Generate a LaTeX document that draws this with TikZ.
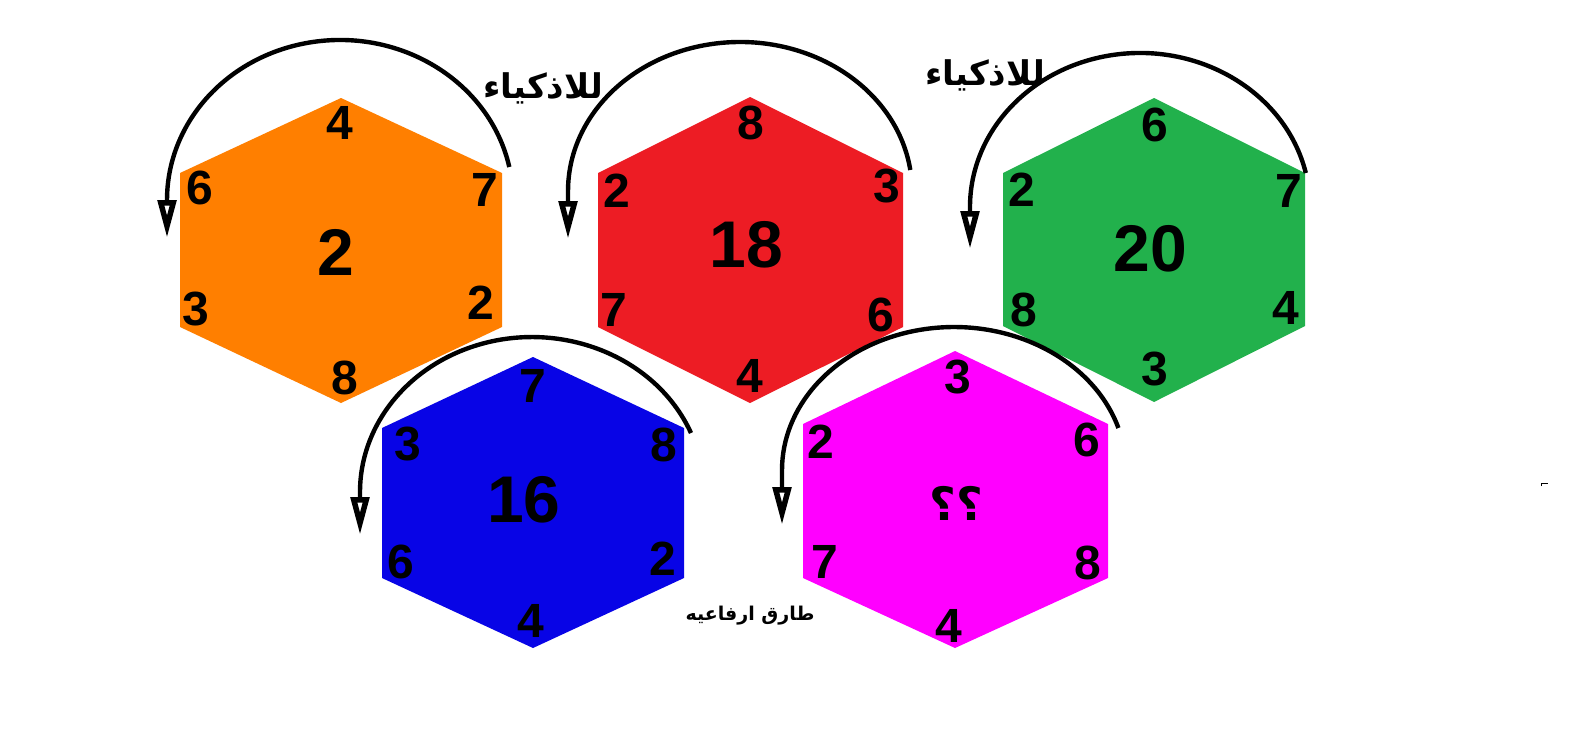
\documentclass[tikz,border=0pt]{standalone}
\usepackage{fontspec}
\setmainfont{Liberation Sans}
\newfontfamily\arabicfont[Script=Arabic]{DejaVu Sans}
\TeXXeTstate=1
\usetikzlibrary{arrows.meta}
\definecolor{hexorange}{RGB}{255,127,0}
\definecolor{hexred}{RGB}{237,28,36}
\definecolor{hexgreen}{RGB}{34,177,76}
\definecolor{hexblue}{RGB}{8,4,230}
\definecolor{hexmagenta}{RGB}{255,0,255}
\tikzset{
  num/.style={font=\fontsize{48}{48}\selectfont\bfseries, inner sep=0pt},
  bignum/.style={font=\fontsize{66}{66}\selectfont\bfseries, inner sep=0pt},
  turn/.style={line width=4.4pt, -{Triangle[open,length=38pt,width=18pt,line width=5.5pt]}},
  artext/.style={font=\arabicfont\bfseries, inner sep=0pt},
}
\begin{document}
\begin{tikzpicture}[x=1pt,y=-1pt]
\fill[white] (0,0) rectangle (1594,750);
\useasboundingbox (0,0) rectangle (1594,750);

% hexagons
\fill[hexorange] (341,98) -- (502,173) -- (502,327) -- (341,403) -- (180,327) -- (180,173) -- cycle;
\fill[hexred] (750,97) -- (903,173) -- (903,327) -- (750,403) -- (598,327) -- (598,173) -- cycle;
\fill[hexgreen] (1154,98) -- (1305,173) -- (1305,326) -- (1154,402) -- (1003,326) -- (1003,173) -- cycle;
\fill[hexblue] (533,357) -- (684,428) -- (684,578) -- (533,648) -- (382,578) -- (382,428) -- cycle;
\fill[hexmagenta] (955,351) -- (1108,424) -- (1108,578) -- (955,648) -- (803,578) -- (803,424) -- cycle;

% arcs
\draw[turn] (509.3,167) arc[start angle=-11.9, end angle=-180, x radius=173, y radius=160] -- (167,238);
\draw[turn] (910.3,170) arc[start angle=-8.1, end angle=-180, x radius=172, y radius=149] -- (568,239);
\draw[turn] (1305.8,173) arc[start angle=-12.75, end angle=-180, x radius=170, y radius=154] -- (970,249);
\draw[turn] (691,433) arc[start angle=-22.4, end angle=-180, x radius=172, y radius=155] -- (360,535);
\draw[turn] (1118.4,428) arc[start angle=-17.1, end angle=-180, x radius=172, y radius=143] -- (782,525);

% orange numbers
\node[num] (o1) at (339.5,123) {4};
\node[num] (o2) at (485,190) {7};
\node[num] (o3) at (481,303) {2};
\node[num] (o4) at (345,378) {8};
\node[num] (o5) at (196,309) {3};
\node[num] (o6) at (199.5,188) {6};
\node[bignum] (oc) at (336,252) {2};

% red numbers
\node[num] (r1) at (750.5,122.5) {8};
\node[num] (r2) at (886.5,186.5) {3};
\node[num] (r3) at (881,314.5) {6};
\node[num] (r4) at (749.5,375.5) {4};
\node[num] (r5) at (614,310) {7};
\node[num] (r6) at (617,191) {2};
\node[bignum] (rc) at (746,245) {18};

% green numbers
\node[num] (g1) at (1155,125) {6};
\node[num] (g2) at (1289,191) {7};
\node[num] (g3) at (1286,308) {4};
\node[num] (g4) at (1155,369) {3};
\node[num] (g5) at (1023.5,310) {8};
\node[num] (g6) at (1022,190) {2};
\node[bignum] (gc) at (1150,248.5) {20};

% blue numbers
\node[num] (b1) at (533,386) {7};
\node[num] (b2) at (664,445) {8};
\node[num] (b3) at (663,559) {2};
\node[num] (b4) at (531,621) {4};
\node[num] (b5) at (401,562) {6};
\node[num] (b6) at (408,444) {3};
\node[bignum] (bc) at (524,500) {16};

% magenta numbers
\node[num] (m1) at (958,377) {3};
\node[num] (m2) at (1086.5,440) {6};
\node[num] (m3) at (1088,562.5) {8};
\node[num] (m4) at (948.5,625.5) {4};
\node[num] (m5) at (824.5,561.5) {7};
\node[num] (m6) at (821,442) {2};
\node[artext, font=\arabicfont\bfseries\fontsize{46}{46}\selectfont] (mc) at (956,503) {\beginR ؟؟\endR};

% texts
\node[artext, font=\arabicfont\bfseries\fontsize{34}{34}\selectfont] (t1) at (543,88) {\beginR للاذكياء\endR};
\node[artext, font=\arabicfont\bfseries\fontsize{34}{34}\selectfont] (t2) at (985,75) {\beginR للاذكياء\endR};
\node[artext, font=\arabicfont\bfseries\fontsize{19}{19}\selectfont] (t3) at (750,616) {\beginR طارق ارفاعيه\endR};

% stray mark
\draw[line width=1pt] (1541,486) -- (1541,483) -- (1548,483);
\end{tikzpicture}
\end{document}
